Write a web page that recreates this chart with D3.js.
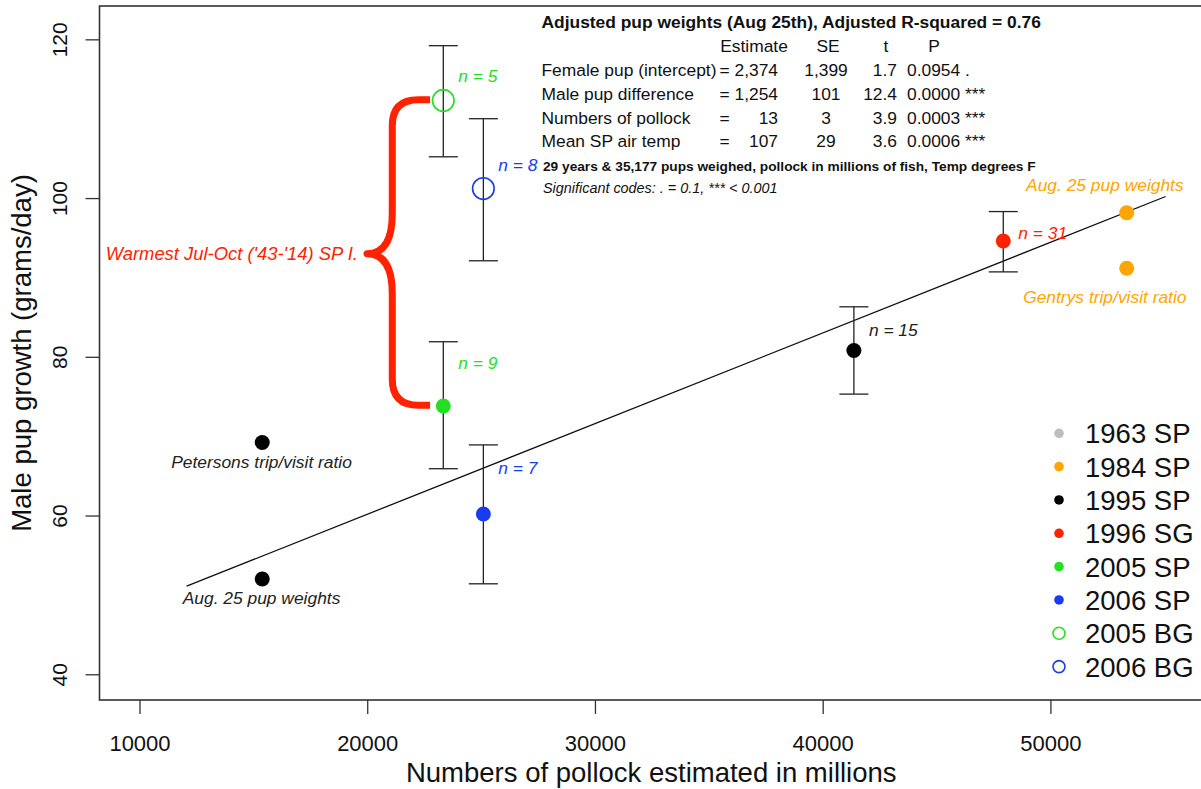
<!DOCTYPE html>
<html>
<head>
<meta charset="utf-8">
<script src="https://cdn.jsdelivr.net/npm/d3@7"></script>
<style>
  body { margin: 0; background: #fff; }
  svg { display: block; font-family: "Liberation Sans", Arial, sans-serif; }
</style>
</head>
<body>
<div id="chart"></div>
<script>
// legend groups
const groups = ["1963 SP", "1984 SP", "1995 SP", "1996 SG", "2005 SP", "2006 SP", "2005 BG", "2006 BG"];
const groupColors = ["#bebebe", "#ffa500", "#000000", "#ff2200", "#22e022", "#1a3cf0", "#22e022", "#1a3cf0"];
const groupFilled = [true, true, true, true, true, true, false, false];

// means with error bars
const barX = [23340, 25100, 23340, 25100, 41370, 47930];
const barMean = [112.3, 101.2, 73.8, 60.2, 80.8, 94.6];
const barLow = [105.2, 92.1, 65.9, 51.4, 75.3, 90.7];
const barHigh = [119.2, 110.0, 81.9, 68.9, 86.3, 98.3];
const barGroup = ["2005 BG", "2006 BG", "2005 SP", "2006 SP", "1995 SP", "1996 SG"];
const barN = [5, 8, 9, 7, 15, 31];
const nLabelY = [115.4, 104.2, 79.2, 66.0, 83.4, 95.6];

// single estimates
const otherX = [15390, 15390, 53350, 53350];
const otherY = [69.2, 52.0, 98.15, 91.15];
const otherGroup = ["1995 SP", "1995 SP", "1984 SP", "1984 SP"];
const otherLabel = ["Petersons trip/visit ratio", "Aug. 25 pup weights", "Aug. 25 pup weights", "Gentrys trip/visit ratio"];
const otherLabelX = [15360, 15360, 52390, 52390];
const otherLabelY = [66.8, 49.6, 101.6, 87.5];

// fitted line
const fitX = [12070, 55060];
const fitY = [51.1, 100.2];

// brace annotation (data units)
const braceTop = 112.4, braceBottom = 73.9, braceTipY = 93.0;
const braceTipX = 19990, braceStemX = 21100, braceEndX = 22760;
const braceText = "Warmest Jul-Oct ('43-'14) SP I.";

// regression table
const tableTitle = "Adjusted pup weights (Aug 25th), Adjusted R-squared = 0.76";
const coefNames = ["Female pup (intercept)", "Male pup difference", "Numbers of pollock", "Mean SP air temp"];
const coefEst = ["2,374", "1,254", "13", "107"];
const coefSE = ["1,399", "101", "3", "29"];
const coefT = ["1.7", "12.4", "3.9", "3.6"];
const coefP = ["0.0954", "0.0000", "0.0003", "0.0006"];
const coefSig = [".", "***", "***", "***"];
const tableNote = "29 years & 35,177 pups weighed, pollock in millions of fish, Temp degrees F";
const tableCodes = "Significant codes: . = 0.1, *** < 0.001";

const xTicks = [10000, 20000, 30000, 40000, 50000];
const yTicks = [40, 60, 80, 100, 120];

const W = 1201, H = 789;
const plot = { left: 99.5, right: 1203, top: 6, bottom: 700 };

const svg = d3.select("#chart").append("svg")
    .attr("width", W)
    .attr("height", H);

const x = d3.scaleLinear().domain([8244, 56700]).range([plot.left, plot.right]);
const y = d3.scaleLinear().domain([36.76, 124.2]).range([plot.bottom, plot.top]);

const colorOf = g => groupColors[groups.indexOf(g)];
const filledOf = g => groupFilled[groups.indexOf(g)];

// axes
const xAxis = svg.append("g")
    .attr("transform", `translate(0,${plot.bottom})`)
    .call(d3.axisBottom(x).tickValues(xTicks).tickSize(14).tickFormat(d3.format("d")));
xAxis.select(".domain").remove();
xAxis.selectAll("line").attr("stroke", "#333").attr("stroke-width", 1.3);
xAxis.selectAll("text")
    .attr("y", 51).attr("dy", 0)
    .attr("fill", "#111")
    .style("font-size", "22px")
    .style("font-family", "Liberation Sans, Arial, sans-serif");

const yAxis = svg.append("g")
    .attr("transform", `translate(${plot.left},0)`)
    .call(d3.axisLeft(y).tickValues(yTicks).tickSize(14));
yAxis.select(".domain").remove();
yAxis.selectAll("line").attr("stroke", "#333").attr("stroke-width", 1.3);
yAxis.selectAll("text")
    .attr("x", 0).attr("y", -32.5).attr("dy", 0)
    .attr("transform", "rotate(-90)")
    .attr("text-anchor", "middle")
    .attr("fill", "#111")
    .style("font-size", "21px")
    .style("font-family", "Liberation Sans, Arial, sans-serif");

// box
svg.append("rect")
    .attr("x", plot.left).attr("y", plot.top)
    .attr("width", plot.right - plot.left)
    .attr("height", plot.bottom - plot.top)
    .attr("fill", "none")
    .attr("stroke", "#333")
    .attr("stroke-width", 1.6);

// axis titles
svg.append("text")
    .attr("x", (plot.left + plot.right) / 2)
    .attr("y", 782)
    .attr("text-anchor", "middle")
    .style("font-size", "27.5px")
    .attr("fill", "#111")
    .text("Numbers of pollock estimated in millions");

svg.append("text")
    .attr("transform", `translate(31,${(plot.top + plot.bottom) / 2}) rotate(-90)`)
    .attr("text-anchor", "middle")
    .style("font-size", "27.5px")
    .attr("fill", "#111")
    .text("Male pup growth (grams/day)");

// fitted line
svg.append("line")
    .attr("x1", x(fitX[0])).attr("y1", y(fitY[0]))
    .attr("x2", x(fitX[1])).attr("y2", y(fitY[1]))
    .attr("stroke", "#111")
    .attr("stroke-width", 1.3);

// brace
const bxE = x(braceEndX), bxS = x(braceStemX), bxT = x(braceTipX);
const byT = y(braceTop), byM = y(braceTipY), byB = y(braceBottom);
const rc = 26, rm = 40;
const bracePath = `M${bxE},${byT} H${bxS + rc} Q${bxS},${byT} ${bxS},${byT + rc}` +
    ` V${byM - rm} Q${bxS},${byM} ${bxT},${byM}` +
    ` Q${bxS},${byM} ${bxS},${byM + rm}` +
    ` V${byB - rc} Q${bxS},${byB} ${bxS + rc},${byB} H${bxE}`;
svg.append("path")
    .attr("d", bracePath)
    .attr("fill", "none")
    .attr("stroke", "#ff2200")
    .attr("stroke-width", 7)
    .attr("stroke-linejoin", "round");

svg.append("text")
    .attr("x", bxT - 9).attr("y", byM)
    .attr("dy", "0.35em")
    .attr("text-anchor", "end")
    .attr("fill", "#ff2200")
    .style("font-size", "18.4px")
    .style("font-style", "italic")
    .text(braceText);

// error bars
const bars = barX.map((v, i) => ({ x: v, m: barMean[i], lo: barLow[i], hi: barHigh[i], g: barGroup[i], n: barN[i], ly: nLabelY[i] }));
const cap = 14.5;
const eb = svg.append("g").attr("stroke", "#222").attr("stroke-width", 1.3);
bars.forEach(d => {
    eb.append("line").attr("x1", x(d.x)).attr("x2", x(d.x)).attr("y1", y(d.lo)).attr("y2", y(d.hi));
    eb.append("line").attr("x1", x(d.x) - cap).attr("x2", x(d.x) + cap).attr("y1", y(d.lo)).attr("y2", y(d.lo));
    eb.append("line").attr("x1", x(d.x) - cap).attr("x2", x(d.x) + cap).attr("y1", y(d.hi)).attr("y2", y(d.hi));
});

svg.selectAll(".mean")
    .data(bars)
    .enter().append("circle")
    .attr("class", "mean")
    .attr("cx", d => x(d.x))
    .attr("cy", d => y(d.m))
    .attr("r", d => filledOf(d.g) ? 7.5 : 10.8)
    .attr("fill", d => filledOf(d.g) ? colorOf(d.g) : "none")
    .attr("stroke", d => filledOf(d.g) ? "none" : colorOf(d.g))
    .attr("stroke-width", 1.6);

svg.selectAll(".nlab")
    .data(bars)
    .enter().append("text")
    .attr("class", "nlab")
    .attr("x", d => x(d.x) + 15)
    .attr("y", d => y(d.ly))
    .attr("dy", "0.35em")
    .attr("fill", d => d.g === "1995 SP" ? "#222" : colorOf(d.g))
    .style("font-size", "17.4px")
    .style("font-style", "italic")
    .text(d => "n = " + d.n);

// single points
const others = otherX.map((v, i) => ({ x: v, y: otherY[i], g: otherGroup[i], lab: otherLabel[i], lx: otherLabelX[i], ly: otherLabelY[i] }));
svg.selectAll(".other")
    .data(others)
    .enter().append("circle")
    .attr("class", "other")
    .attr("cx", d => x(d.x))
    .attr("cy", d => y(d.y))
    .attr("r", 7.5)
    .attr("fill", d => colorOf(d.g));

svg.selectAll(".olab")
    .data(others)
    .enter().append("text")
    .attr("class", "olab")
    .attr("x", d => x(d.lx))
    .attr("y", d => y(d.ly))
    .attr("dy", "0.35em")
    .attr("text-anchor", "middle")
    .attr("fill", d => d.g === "1995 SP" ? "#222" : colorOf(d.g))
    .style("font-size", "17.4px")
    .style("font-style", "italic")
    .text(d => d.lab);

// regression table
const tbl = svg.append("g").attr("fill", "#111").style("font-size", "17.4px");
tbl.append("text").attr("x", 541.5).attr("y", 28)
    .style("font-weight", "bold").text(tableTitle);
const heads = ["Estimate", "SE", "t", "P"];
const headX = [754, 828, 886, 934];
heads.forEach((h, i) => {
    tbl.append("text").attr("x", headX[i]).attr("y", 52).attr("text-anchor", "middle").text(h);
});
coefNames.forEach((nm, i) => {
    const by = 76 + i * 23.8;
    tbl.append("text").attr("x", 541.5).attr("y", by).text(nm);
    tbl.append("text").attr("x", 719.5).attr("y", by).text("=");
    tbl.append("text").attr("x", 778).attr("y", by).attr("text-anchor", "end").text(coefEst[i]);
    tbl.append("text").attr("x", 826).attr("y", by).attr("text-anchor", "middle").text(coefSE[i]);
    tbl.append("text").attr("x", 897).attr("y", by).attr("text-anchor", "end").text(coefT[i]);
    tbl.append("text").attr("x", 907).attr("y", by).text(coefP[i]);
    tbl.append("text").attr("x", 965).attr("y", by).text(coefSig[i]);
});
tbl.append("text").attr("x", 543).attr("y", 170.5)
    .style("font-weight", "bold").style("font-size", "13.7px").text(tableNote);
tbl.append("text").attr("x", 543).attr("y", 193)
    .style("font-style", "italic").style("font-size", "14.4px").text(tableCodes);

// legend
const legend = svg.append("g");
groups.forEach((g, i) => {
    const ly = 433.3 + i * 33.33;
    legend.append("circle")
        .attr("cx", 1059).attr("cy", ly)
        .attr("r", groupFilled[i] ? 4.8 : 6)
        .attr("fill", groupFilled[i] ? groupColors[i] : "none")
        .attr("stroke", groupFilled[i] ? "none" : groupColors[i])
        .attr("stroke-width", 1.6);
    legend.append("text")
        .attr("x", 1085).attr("y", ly)
        .attr("dy", "0.36em")
        .attr("fill", "#111")
        .style("font-size", "27.5px")
        .text(g);
});
</script>
</body>
</html>
